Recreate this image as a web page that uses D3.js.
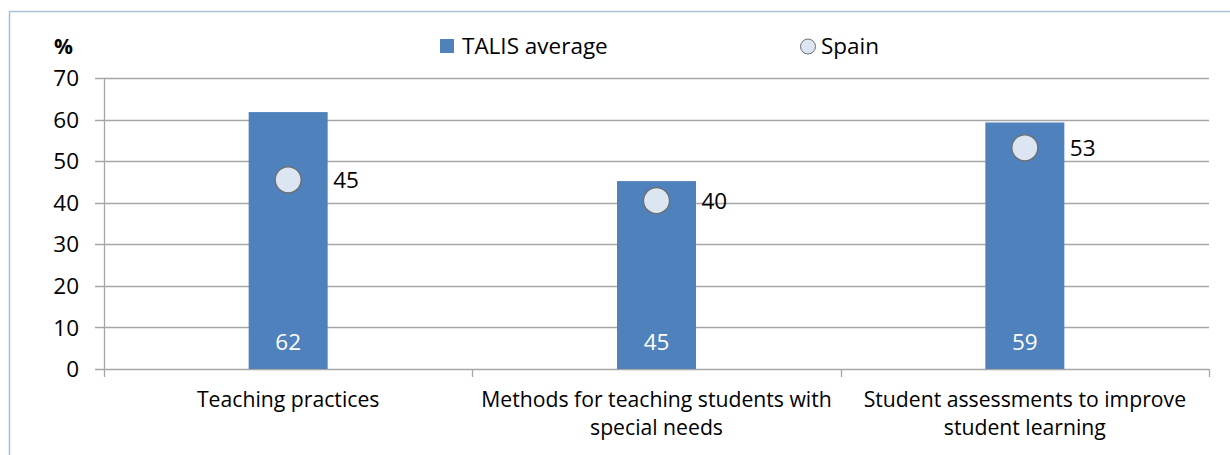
<!DOCTYPE html>
<html>
<head>
<meta charset="utf-8">
<script src="https://cdn.jsdelivr.net/npm/d3@7"></script>
<style>
  body { margin: 0; background: #fff; }
  svg { display: block; font-family: "Open Sans", Lato, sans-serif; }
</style>
</head>
<body>
<script>
var categories = [
  ["Teaching practices"],
  ["Methods for teaching students with", "special needs"],
  ["Student assessments to improve", "student learning"]
];
var talisAverage = [61.8, 45.2, 59.3];
var spain = [45.5, 40.5, 53.2];
var talisLabels = ["62", "45", "59"];
var spainLabels = ["45", "40", "53"];
var yTicks = [0, 10, 20, 30, 40, 50, 60, 70];

var width = 1230, height = 455;
var barColor = "#4F81BD";
var dotFill = "#DCE6F2";
var gridColor = "#A6A6A6";
var fontSize = 22.5;

var svg = d3.select("body").append("svg")
  .attr("width", width)
  .attr("height", height);

// chart frame
svg.append("path")
  .attr("d", "M9.5," + height + "V11.5H" + width)
  .attr("fill", "none")
  .attr("stroke", "#A8C0DC")
  .attr("stroke-width", 1.5);

var plotLeft = 104, plotRight = 1209, plotTop = 78, plotBottom = 369;

var x = d3.scaleBand()
  .domain(d3.range(categories.length))
  .range([plotLeft, plotRight]);

var y = d3.scaleLinear().domain([0, 70]).range([plotBottom, plotTop]);

// gridlines + y ticks
svg.append("g")
  .selectAll("line")
  .data(yTicks)
  .enter().append("line")
  .attr("x1", plotLeft - 9)
  .attr("x2", plotRight)
  .attr("y1", function(d) { return Math.round(y(d)) + 0.5; })
  .attr("y2", function(d) { return Math.round(y(d)) + 0.5; })
  .attr("stroke", gridColor)
  .attr("stroke-width", 1.3);

svg.append("g")
  .selectAll("text")
  .data(yTicks)
  .enter().append("text")
  .attr("x", plotLeft - 25)
  .attr("y", function(d) { return y(d); })
  .attr("dy", "0.36em")
  .attr("text-anchor", "end")
  .attr("font-size", fontSize)
  .attr("fill", "#000")
  .text(function(d) { return d; });

// y axis line
svg.append("line")
  .attr("x1", plotLeft + 0.5).attr("x2", plotLeft + 0.5)
  .attr("y1", plotTop).attr("y2", plotBottom + 8)
  .attr("stroke", gridColor)
  .attr("stroke-width", 1.3);

// x category ticks
svg.append("g")
  .selectAll("line")
  .data(d3.range(1, categories.length + 1))
  .enter().append("line")
  .attr("x1", function(d) { return Math.round(plotLeft + x.step() * d) + 0.5; })
  .attr("x2", function(d) { return Math.round(plotLeft + x.step() * d) + 0.5; })
  .attr("y1", plotBottom)
  .attr("y2", plotBottom + 8)
  .attr("stroke", gridColor)
  .attr("stroke-width", 1.3);

// bars
var barW = 79;
svg.append("g")
  .selectAll("rect")
  .data(talisAverage)
  .enter().append("rect")
  .attr("x", function(d, i) { return x(i) + x.bandwidth() / 2 - barW / 2; })
  .attr("y", function(d) { return y(d); })
  .attr("width", barW)
  .attr("height", function(d) { return plotBottom - y(d); })
  .attr("fill", barColor);

// bar labels
svg.append("g")
  .selectAll("text")
  .data(talisLabels)
  .enter().append("text")
  .attr("x", function(d, i) { return x(i) + x.bandwidth() / 2; })
  .attr("y", plotBottom - 19)
  .attr("text-anchor", "middle")
  .attr("font-size", fontSize)
  .attr("fill", "#fff")
  .text(function(d) { return d; });

// Spain dots
svg.append("g")
  .selectAll("circle")
  .data(spain)
  .enter().append("circle")
  .attr("cx", function(d, i) { return x(i) + x.bandwidth() / 2; })
  .attr("cy", function(d) { return y(d); })
  .attr("r", 13)
  .attr("fill", dotFill)
  .attr("stroke", "#6E6E6E")
  .attr("stroke-width", 1.3);

svg.append("g")
  .selectAll("text")
  .data(spainLabels)
  .enter().append("text")
  .attr("x", function(d, i) { return x(i) + x.bandwidth() / 2 + 45; })
  .attr("y", function(d, i) { return y(spain[i]); })
  .attr("dy", "0.36em")
  .attr("font-size", fontSize)
  .attr("fill", "#000")
  .text(function(d) { return d; });

// category labels
var cat = svg.append("g")
  .selectAll("text")
  .data(categories)
  .enter().append("text")
  .attr("x", function(d, i) { return x(i) + x.bandwidth() / 2; })
  .attr("y", 407)
  .attr("text-anchor", "middle")
  .attr("font-size", 21.2)
  .attr("fill", "#000");
cat.selectAll("tspan")
  .data(function(d) { return d; })
  .enter().append("tspan")
  .attr("x", function() { return this.parentNode.getAttribute("x"); })
  .attr("dy", function(d, i) { return i ? 28 : 0; })
  .text(function(d) { return d; });

// % label
svg.append("text")
  .attr("x", 54).attr("y", 54)
  .attr("font-size", 21)
  .attr("font-weight", "bold")
  .text("%");

// legend
var lg = svg.append("g");
lg.append("rect")
  .attr("x", 440).attr("y", 39)
  .attr("width", 14).attr("height", 14)
  .attr("fill", barColor);
lg.append("text")
  .attr("x", 462).attr("y", 54)
  .attr("font-size", fontSize)
  .text("TALIS average");
lg.append("circle")
  .attr("cx", 808).attr("cy", 46.5)
  .attr("r", 7.5)
  .attr("fill", dotFill)
  .attr("stroke", "#6E6E6E")
  .attr("stroke-width", 1);
lg.append("text")
  .attr("x", 821).attr("y", 54)
  .attr("font-size", fontSize)
  .text("Spain");
</script>
</body>
</html>
